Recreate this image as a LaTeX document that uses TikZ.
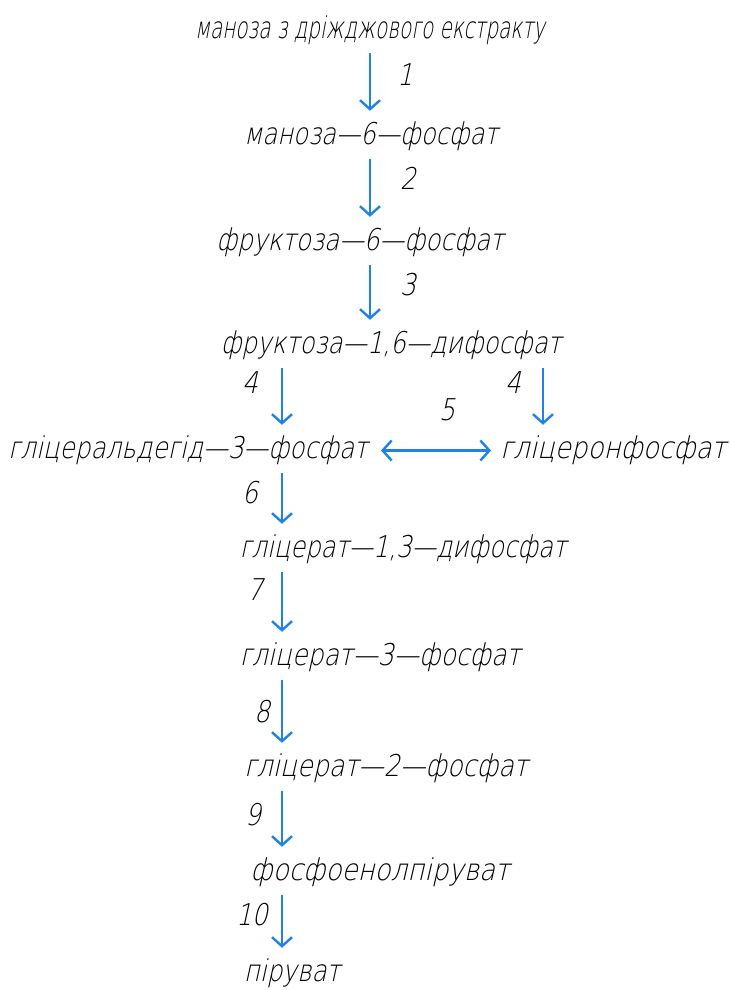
\documentclass[tikz,border=0pt]{standalone}
\usepackage{fontspec}
\setmainfont{DejaVuSans-ExtraLight.ttf}[FakeSlant=0.22,FakeStretch=0.83]
\usetikzlibrary{arrows.meta}
\definecolor{arrblue}{HTML}{1E82E6}
\newcommand{\sx}[2]{\scalebox{#1}[1]{#2}}
\tikzset{
  chem/.style={inner sep=0pt, text height=21pt, text depth=6pt, font=\fontsize{30}{32}\selectfont, anchor=base},
  num/.style={inner sep=0pt, font=\fontsize{30}{32}\selectfont},
  arr/.style={draw=arrblue, line width=2.4pt, -{Straight Barb[length=9pt,width=20pt,line width=2.4pt]}, shorten <=9pt, shorten >=12pt},
  darr/.style={draw=arrblue, line width=2.4pt, {Straight Barb[length=9pt,width=20pt,line width=2.4pt]}-{Straight Barb[length=9pt,width=20pt,line width=2.4pt]}}
}
\begin{document}
\begin{tikzpicture}[x=1pt,y=-1pt]
\useasboundingbox (0,0) rectangle (730,990);
% axes for arrows
\coordinate (xa) at (370,0);
\coordinate (xb) at (282,0);
\coordinate (xc) at (543,0);
% compounds
\node[chem] (n1) at (370,38) {\sx{0.8}{маноза з дріжджового екстракту}};
\node[chem] (n2) at (371,144) {\sx{0.975}{маноза—6—фосфат}};
\node[chem] (n3) at (360,250) {\sx{0.99}{фруктоза—6—фосфат}};
\node[chem] (n4) at (391,353) {\sx{0.98}{фруктоза—1,6—дифосфат}};
\node[chem, anchor=base east] (n5) at (368,458) {\sx{0.99}{гліцеральдегід—3—фосфат}};
\node[chem, anchor=base west] (n6) at (500,458) {\sx{1.05}{гліцеронфосфат}};
\node[chem] (n7) at (403,557) {\sx{0.975}{гліцерат—1,3—дифосфат}};
\node[chem] (n8) at (380,665) {\sx{1.01}{гліцерат—3—фосфат}};
\node[chem] (n9) at (386,776) {\sx{1.02}{гліцерат—2—фосфат}};
\node[chem] (n10) at (380,880) {\sx{1.05}{фосфоенолпіруват}};
\node[chem] (n11) at (292,981) {\sx{0.99}{піруват}};
% arrows
\draw[arr] (n1.south -| xa) -- (n2.north -| xa);
\draw[arr] (n2.south -| xa) -- (n3.north -| xa);
\draw[arr] (n3.south -| xa) -- (n4.north -| xa);
\draw[arr] (n4.south -| xb) -- (n5.north -| xb);
\draw[arr] (n4.south -| xc) -- (n6.north -| xc);
\draw[darr] ([xshift=13pt]n5.east) -- ([xshift=-9pt]n6.west);
\draw[arr] (n5.south -| xb) -- (n7.north -| xb);
\draw[arr] (n7.south -| xb) -- (n8.north -| xb);
\draw[arr] (n8.south -| xb) -- (n9.north -| xb);
\draw[arr] (n9.south -| xb) -- (n10.north -| xb);
\draw[arr] (n10.south -| xb) -- (n11.north -| xb);
% step numbers
\node[num] (s1) at (405,75) {1};
\node[num] (s2) at (408,178) {2};
\node[num] (s3) at (408,285) {3};
\node[num] (s4a) at (250,383) {4};
\node[num] (s4b) at (513,383) {4};
\node[num] (s5) at (447,410) {5};
\node[num] (s6) at (250,493) {6};
\node[num] (s7) at (255,590) {7};
\node[num] (s8) at (262,712) {8};
\node[num] (s9) at (253,815) {9};
\node[num, anchor=east] (s10) at (268,915) {10};
\end{tikzpicture}
\end{document}
